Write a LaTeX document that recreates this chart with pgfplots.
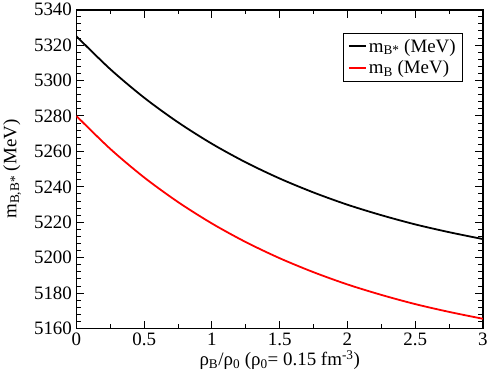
\documentclass[border=0pt]{standalone}
\usepackage{fontspec}
\setmainfont{Liberation Serif}
\usepackage{pgfplots}
\pgfplotsset{compat=1.18}

\begin{document}
\begin{tikzpicture}
\begin{axis}[
scale only axis,
width=408pt, height=320pt,
xmin=0, xmax=3, ymin=5160, ymax=5340,
xtick distance=0.5, ytick distance=20,
minor x tick num=1, minor y tick num=4,
tick align=inside, xtick pos=both, ytick pos=both,
major tick length=8pt, minor tick length=4.5pt,
every tick/.style={black, line width=1pt},
axis line style={line width=1.8pt},
/pgf/number format/assume math mode=true,
/pgf/number format/set thousands separator={},
tick label style={font=\fontsize{19}{21}\selectfont},
label style={font=\fontsize{19}{21}\selectfont},
xticklabel style={yshift=-1pt},
yticklabel style={xshift=-1pt},
xlabel={ρ\textsubscript{B}/ρ\textsubscript{0} (ρ\textsubscript{0}= 0.15 fm\textsuperscript{-3})},
ylabel={m\textsubscript{B,B*} (MeV)},
xlabel style={yshift=2pt},
ylabel style={yshift=6pt},
legend style={at={(0.951,0.928)}, anchor=north east, font=\fontsize{19}{21}\selectfont,
  draw=black, line width=0.7pt, row sep=3pt, inner xsep=5pt, inner ysep=4pt,
  cells={anchor=west}},
legend image post style={line width=1.8pt},
]
\addplot[black, line width=1.8pt, smooth] coordinates {
(0,5325.0) (0.25,5306.4) (0.5,5290.3) (0.75,5276.4) (1.0,5264.3) (1.25,5253.8)
(1.5,5244.7) (1.75,5236.8) (2.0,5229.9) (2.25,5224.0) (2.5,5218.8) (2.75,5214.4) (3.0,5210.5)};
\addlegendentry{m\textsubscript{B*} (MeV)}
\addplot[red, line width=1.8pt, smooth] coordinates {
(0,5280.0) (0.25,5261.4) (0.5,5245.3) (0.75,5231.4) (1.0,5219.3) (1.25,5208.8)
(1.5,5199.7) (1.75,5191.8) (2.0,5184.9) (2.25,5179.0) (2.5,5173.8) (2.75,5169.4) (3.0,5165.5)};
\addlegendentry{m\textsubscript{B} (MeV)}
\end{axis}
\end{tikzpicture}
\end{document}
